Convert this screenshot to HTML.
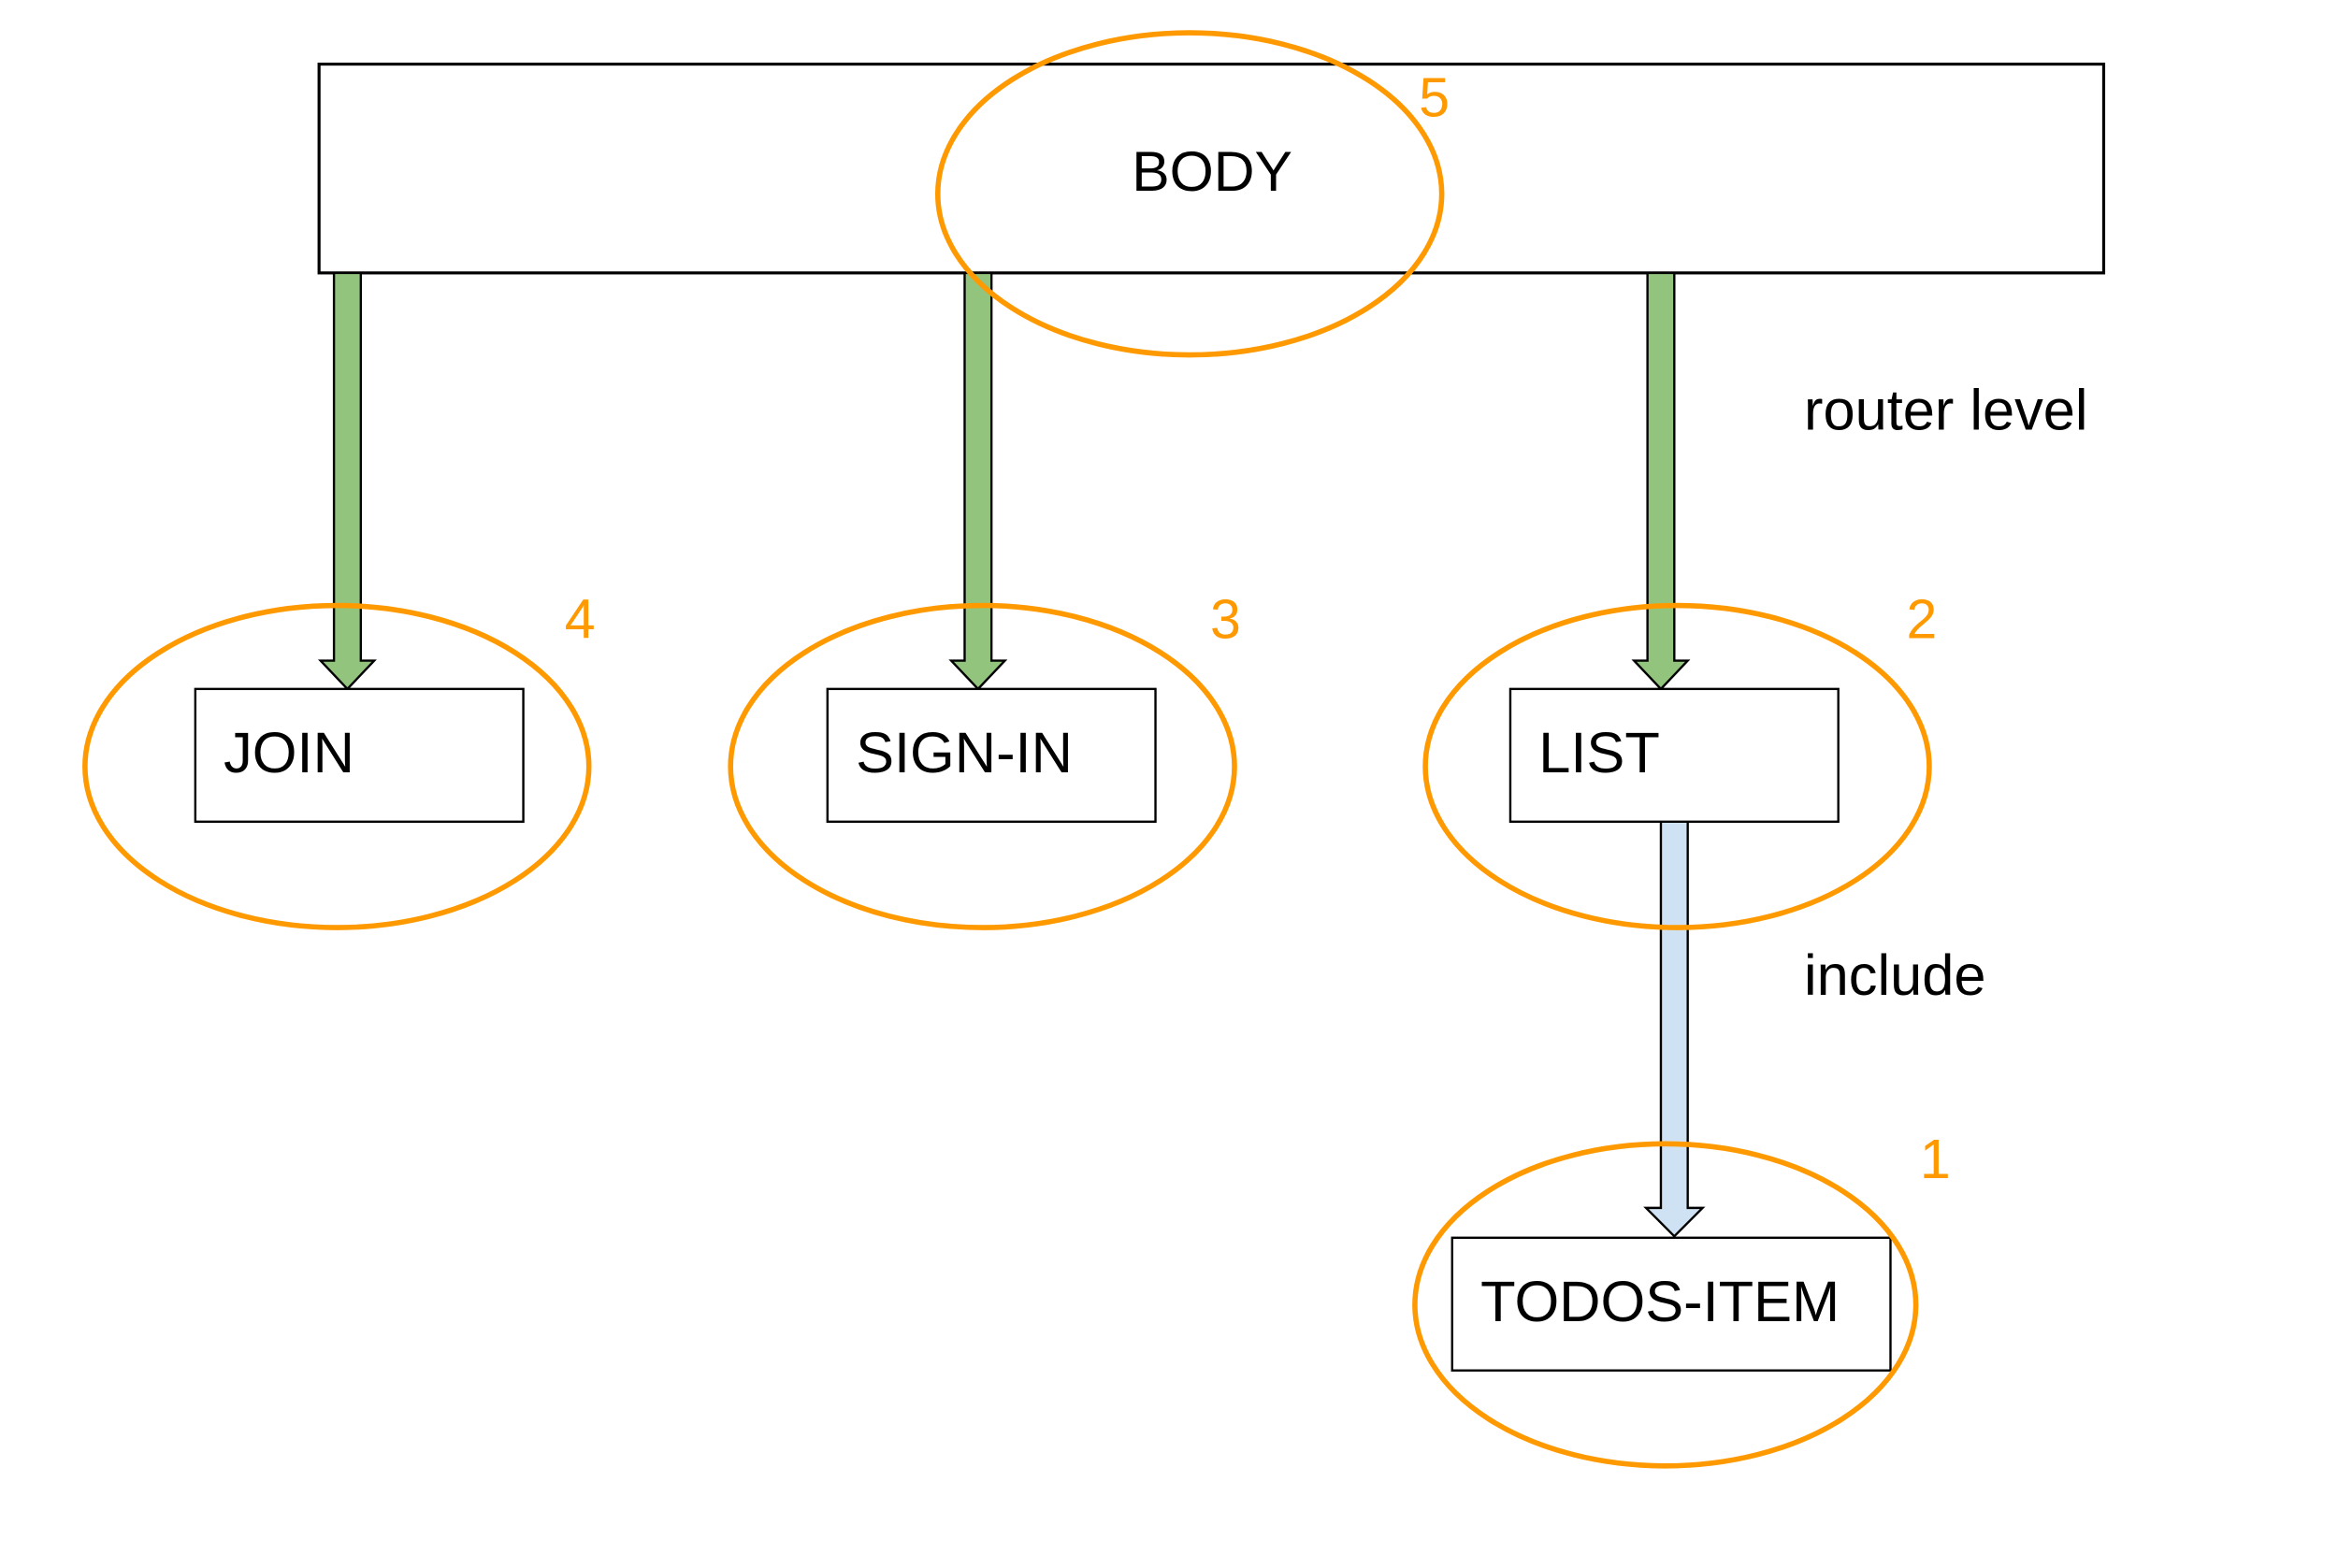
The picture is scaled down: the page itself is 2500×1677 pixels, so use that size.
<!DOCTYPE html>
<html><head><meta charset="utf-8"><style>html,body{margin:0;padding:0;background:#fff}svg{display:block}</style></head>
<body>
<svg width="2500" height="1677" viewBox="0 0 1560 1046" preserveAspectRatio="none" xmlns="http://www.w3.org/2000/svg" font-family="Liberation Sans, Arial, sans-serif">
<rect x="0" y="0" width="1560" height="1046" fill="#fff"/>
<g transform="scale(0.9948)">
<rect x="214" y="43" width="1197" height="140" fill="#fff" stroke="#000" stroke-width="2"/>
<text x="813" y="128" font-size="38" text-anchor="middle">BODY</text>
<g fill="#93c47d" stroke="#000" stroke-width="1.5">
<path d="M224 183 L242 183 L242 443 L251 443 L233 462 L215 443 L224 443 Z"/>
<path d="M647 183 L665 183 L665 443 L674 443 L656 462 L638 443 L647 443 Z"/>
<path d="M1105 183 L1123 183 L1123 443 L1132 443 L1114 462 L1096 443 L1105 443 Z"/>
</g>
<path d="M1114 551 L1132 551 L1132 810 L1142 810 L1123 829 L1104 810 L1114 810 Z" fill="#cfe2f3" stroke="#000" stroke-width="1.5"/>
<rect x="131" y="462" width="220" height="89" fill="#fff" stroke="#000" stroke-width="1.5"/>
<rect x="555" y="462" width="220" height="89" fill="#fff" stroke="#000" stroke-width="1.5"/>
<rect x="1013" y="462" width="220" height="89" fill="#fff" stroke="#000" stroke-width="1.5"/>
<rect x="974" y="830" width="294" height="89" fill="#fff" stroke="#000" stroke-width="1.5"/>
<g font-size="38.5" fill="#000">
<text x="150" y="518">JOIN</text>
<text x="574" y="518">SIGN-IN</text>
<text x="1032" y="518">LIST</text>
<text x="993" y="886">TODOS-ITEM</text>
<text x="1210" y="288">router level</text>
<text x="1210" y="667">include</text>
</g>
<g fill="none" stroke="#ff9900" stroke-width="3.5">
<ellipse cx="798" cy="130" rx="169" ry="108"/>
<ellipse cx="226" cy="514" rx="169" ry="108"/>
<ellipse cx="659" cy="514" rx="169" ry="108"/>
<ellipse cx="1125" cy="514" rx="169" ry="108"/>
<ellipse cx="1117" cy="875" rx="168" ry="108"/>
</g>
<g font-size="37" fill="#ff9900" text-anchor="middle">
<text x="962" y="78">5</text>
<text x="389" y="428">4</text>
<text x="822" y="428">3</text>
<text x="1289" y="428">2</text>
<text x="1298" y="790">1</text>
</g>
</g>
</svg>
</body></html>
